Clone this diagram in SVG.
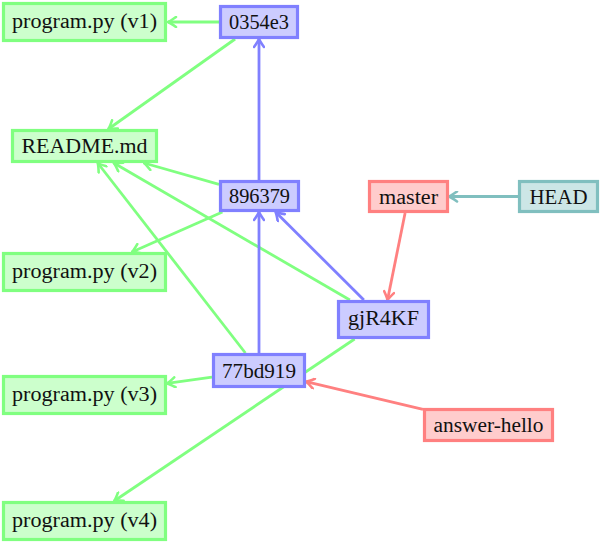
<svg xmlns="http://www.w3.org/2000/svg" width="600" height="542" viewBox="0 0 600 542">
<style>
text{font-family:"Liberation Serif","DejaVu Serif",serif;font-size:20px;fill:#111;text-anchor:middle}
.g rect{fill:#ccffcc;stroke:#80ff80;stroke-width:3.2}
.b rect{fill:#ccccff;stroke:#8080ff;stroke-width:3.2}
.r rect{fill:#ffcccc;stroke:#ff8080;stroke-width:3.2}
.t rect{fill:#cce6e6;stroke:#80bfbf;stroke-width:3.2}
#edges line{stroke-width:2.8;fill:none}
.eg{stroke:#80ff80}
.eb{stroke:#8080ff}
.er{stroke:#ff8080}
.et{stroke:#80bfbf}
</style>
<defs>
<marker id="ag" markerUnits="userSpaceOnUse" viewBox="-10 -6 11 12" refX="0" refY="0" markerWidth="11" markerHeight="12" orient="auto"><path d="M-8,-5 Q-2.5,-1 0,0 Q-2.5,1 -8,5" fill="none" stroke="#80ff80" stroke-width="2.6" stroke-linecap="round"/></marker>
<marker id="ab" markerUnits="userSpaceOnUse" viewBox="-10 -6 11 12" refX="0" refY="0" markerWidth="11" markerHeight="12" orient="auto"><path d="M-8,-5 Q-2.5,-1 0,0 Q-2.5,1 -8,5" fill="none" stroke="#8080ff" stroke-width="2.6" stroke-linecap="round"/></marker>
<marker id="ar" markerUnits="userSpaceOnUse" viewBox="-10 -6 11 12" refX="0" refY="0" markerWidth="11" markerHeight="12" orient="auto"><path d="M-8,-5 Q-2.5,-1 0,0 Q-2.5,1 -8,5" fill="none" stroke="#ff8080" stroke-width="2.6" stroke-linecap="round"/></marker>
<marker id="at" markerUnits="userSpaceOnUse" viewBox="-10 -6 11 12" refX="0" refY="0" markerWidth="11" markerHeight="12" orient="auto"><path d="M-8,-5 Q-2.5,-1 0,0 Q-2.5,1 -8,5" fill="none" stroke="#80bfbf" stroke-width="2.6" stroke-linecap="round"/></marker>
</defs>
<g id="edges">
<line class="eg" x1="219" y1="22" x2="168" y2="22" marker-end="url(#ag)"/>
<line class="eg" x1="235.1" y1="39" x2="108.4" y2="129" marker-end="url(#ag)"/>
<line class="eb" x1="259" y1="180" x2="259" y2="39" marker-end="url(#ab)"/>
<line class="eg" x1="219" y1="184.4" x2="144" y2="163" marker-end="url(#ag)"/>
<line class="eg" x1="222.4" y1="212" x2="132" y2="252" marker-end="url(#ag)"/>
<line class="eg" x1="245.4" y1="353" x2="97.7" y2="163" marker-end="url(#ag)"/>
<line class="eg" x1="349.9" y1="300" x2="113.8" y2="163" marker-end="url(#ag)"/>
<line class="eb" x1="363.9" y1="300" x2="275.6" y2="212" marker-end="url(#ab)"/>
<line class="eb" x1="259" y1="353" x2="259" y2="212" marker-end="url(#ab)"/>
<line class="eg" x1="212" y1="377.1" x2="167" y2="383.4" marker-end="url(#ag)"/>
<line class="eg" x1="354.6" y1="339" x2="114.2" y2="501" marker-end="url(#ag)"/>
<line class="er" x1="405.1" y1="213" x2="387.5" y2="300" marker-end="url(#ar)"/>
<line class="et" x1="518" y1="196.5" x2="449" y2="196.5" marker-end="url(#at)"/>
<line class="er" x1="423" y1="409.4" x2="306" y2="381.7" marker-end="url(#ar)"/>
</g>
<g id="p1" class="g"><rect x="3.5" y="3.5" width="162" height="37"/><text x="84.5" y="28" textLength="145" lengthAdjust="spacingAndGlyphs">program.py (v1)</text></g>
<g id="c0354e3" class="b"><rect x="220.5" y="6.5" width="77" height="31"/><text x="259" y="28.5" textLength="60" lengthAdjust="spacingAndGlyphs">0354e3</text></g>
<g id="readme" class="g"><rect x="12.5" y="130.5" width="144" height="31"/><text x="84.5" y="153" textLength="126" lengthAdjust="spacingAndGlyphs">README.md</text></g>
<g id="c896379" class="b"><rect x="220.5" y="181.5" width="78" height="29"/><text x="259.5" y="202.5" textLength="61" lengthAdjust="spacingAndGlyphs">896379</text></g>
<g id="master" class="r"><rect x="369.5" y="181.5" width="78" height="30"/><text x="408.5" y="203.5" textLength="59" lengthAdjust="spacingAndGlyphs">master</text></g>
<g id="head" class="t"><rect x="519.5" y="181.5" width="78" height="30"/><text x="558.5" y="203.5" textLength="58" lengthAdjust="spacingAndGlyphs">HEAD</text></g>
<g id="p2" class="g"><rect x="3.5" y="253.5" width="162" height="37"/><text x="84.5" y="278" textLength="145" lengthAdjust="spacingAndGlyphs">program.py (v2)</text></g>
<g id="gjR4KF" class="b"><rect x="338.5" y="301.5" width="90" height="36"/><text x="383.5" y="325" textLength="71" lengthAdjust="spacingAndGlyphs">gjR4KF</text></g>
<g id="c77bd919" class="b"><rect x="213.5" y="354.5" width="91" height="32"/><text x="259" y="377.5" textLength="74" lengthAdjust="spacingAndGlyphs">77bd919</text></g>
<g id="p3" class="g"><rect x="3.5" y="376.5" width="162" height="37"/><text x="84.5" y="401" textLength="145" lengthAdjust="spacingAndGlyphs">program.py (v3)</text></g>
<g id="answer" class="r"><rect x="424.5" y="409.5" width="128" height="31"/><text x="488.5" y="432" textLength="110" lengthAdjust="spacingAndGlyphs">answer-hello</text></g>
<g id="p4" class="g"><rect x="3.5" y="502.5" width="162" height="37"/><text x="84.5" y="527" textLength="145" lengthAdjust="spacingAndGlyphs">program.py (v4)</text></g>
</svg>
